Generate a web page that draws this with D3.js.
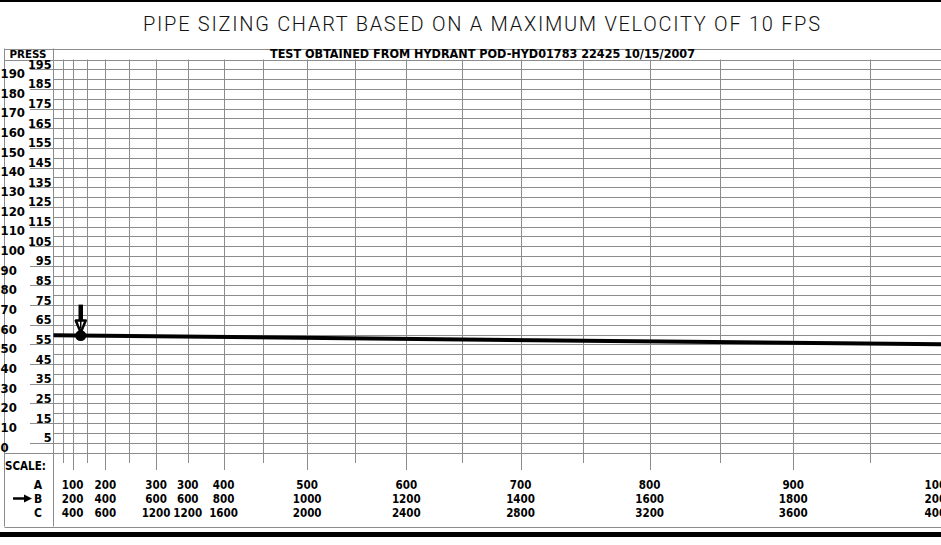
<!DOCTYPE html>
<html>
<head>
<meta charset="utf-8">
<script src="https://cdn.jsdelivr.net/npm/d3@7"></script>
<style>
  body { margin: 0; background: #fff; }
  svg { display: block; }
  .lbl { font-family: "DejaVu Sans Condensed", "Liberation Sans Narrow", "DejaVu Sans", sans-serif; font-weight: bold; font-stretch: condensed; fill: #000; }
</style>
</head>
<body>
<svg id="chart" width="941" height="545"></svg>
<script>
// Pipe sizing chart (N^1.85 paper)

var title = "PIPE SIZING CHART BASED ON A MAXIMUM VELOCITY OF 10 FPS";
var subtitle = "TEST OBTAINED FROM HYDRANT POD-HYD01783 22425 10/15/2007";

// pressure labels, left column
var evenPress = [190, 180, 170, 160, 150, 140, 130, 120, 110, 100, 90, 80, 70, 60, 50, 40, 30, 20, 10, 0];
var oddPress = [195, 185, 175, 165, 155, 145, 135, 125, 115, 105, 95, 85, 75, 65, 55, 45, 35, 25, 15, 5];

// flow grid lines (scale A units)
var majorFlow = [100, 200, 300, 400, 500, 600, 700, 800, 900, 1000];
var minorFlow = [50, 150, 250, 350, 450, 550, 650, 750, 850, 950];

// scale rows under the grid
var scalePos = [100, 200, 300, 350, 400, 500, 600, 700, 800, 900, 1000];
var scaleA = ["100", "200", "300", "300", "400", "500", "600", "700", "800", "900", "1000"];
var scaleB = ["200", "400", "600", "600", "800", "1000", "1200", "1400", "1600", "1800", "2000"];
var scaleC = ["400", "600", "1200", "1200", "1600", "2000", "2400", "2800", "3200", "3600", "4000"];

// flow test: static pressure, pressure at end of scale, test point
var testFlow = [0, 1000];
var testPress = [59.6, 55.0];
var testPointFlow = 131;

var svg = d3.select("#chart");
var W = 941;

var boxLeft = 4.5, colX = 53.5, headTop = 48.5, boxBottom = 526.5;
var shortEnd = 463, longEnd = 470;

var x = d3.scalePow().exponent(1.85).domain([0, 1000]).range([60, 951]);
var y = d3.scaleLinear().domain([0, 200]).range([452.5, 59.5]);

var gridColor = "#8c8c8c";

// top rule
svg.append("line").attr("x1", 0).attr("x2", W).attr("y1", 1).attr("y2", 1)
  .attr("stroke", "#000").attr("stroke-width", 2);

svg.append("text").attr("x", 481.5).attr("y", 30.5)
  .attr("text-anchor", "middle")
  .attr("textLength", 677).attr("lengthAdjust", "spacing")
  .style("font-family", "Roboto, 'DejaVu Sans', sans-serif").style("font-weight", 300)
  .style("font-size", "20px")
  .style("fill", "#111")
  .text(title);

// horizontal grid
var g = svg.append("g");
g.selectAll("line.h").data(y.ticks(40).filter(function(d){ return d > 0 && d < 200; }))
  .enter().append("line")
  .attr("x1", colX).attr("x2", W)
  .attr("y1", function(d){ return Math.round(y(d)) + 0.5; })
  .attr("y2", function(d){ return Math.round(y(d)) + 0.5; })
  .attr("stroke", gridColor);

// header and bottom of grid, full width
[headTop, y(200), y(0), boxBottom].forEach(function(v){
  g.append("line").attr("x1", boxLeft).attr("x2", W)
    .attr("y1", Math.round(v) + 0.5).attr("y2", Math.round(v) + 0.5)
    .attr("stroke", gridColor);
});

// box borders
g.append("line").attr("x1", boxLeft).attr("x2", boxLeft).attr("y1", headTop).attr("y2", boxBottom).attr("stroke", gridColor);
g.append("line").attr("x1", colX).attr("x2", colX).attr("y1", headTop).attr("y2", boxBottom).attr("stroke", gridColor);

// vertical grid
g.selectAll("line.major").data(majorFlow).enter().append("line")
  .attr("x1", function(d){ return Math.round(x(d)) + 0.5; })
  .attr("x2", function(d){ return Math.round(x(d)) + 0.5; })
  .attr("y1", y(200)).attr("y2", longEnd)
  .attr("stroke", gridColor);
g.selectAll("line.minor").data(minorFlow).enter().append("line")
  .attr("x1", function(d){ return Math.round(x(d)) + 0.5; })
  .attr("x2", function(d){ return Math.round(x(d)) + 0.5; })
  .attr("y1", y(200)).attr("y2", shortEnd)
  .attr("stroke", gridColor);

// header texts
svg.append("text").attr("class", "lbl").attr("x", 28).attr("y", 57.5)
  .attr("text-anchor", "middle").attr("textLength", 37).attr("lengthAdjust", "spacingAndGlyphs")
  .style("font-size", "11px").text("PRESS");
svg.append("text").attr("class", "lbl").attr("x", 482.5).attr("y", 57.5)
  .attr("text-anchor", "middle").attr("textLength", 425).attr("lengthAdjust", "spacingAndGlyphs")
  .style("font-size", "12.5px").text(subtitle);

// left pressure labels
svg.selectAll("text.even").data(evenPress).enter().append("text")
  .attr("class", "lbl").attr("x", 0.5).attr("y", function(d){ return y(d) - 1; })
  .style("font-size", "13px").text(function(d){ return d; });
svg.selectAll("text.odd").data(oddPress).enter().append("text")
  .attr("class", "lbl").attr("x", 51.5).attr("y", function(d){ return y(d) - 0.5; })
  .attr("text-anchor", "end")
  .style("font-size", "12.5px").text(function(d){ return d; });
svg.selectAll("line.oddtick").data(oddPress).enter().append("line")
  .attr("x1", 30).attr("x2", colX)
  .attr("y1", function(d){ return Math.round(y(d)) + 0.5; })
  .attr("y2", function(d){ return Math.round(y(d)) + 0.5; })
  .attr("stroke", gridColor);

svg.append("text").attr("class", "lbl").attr("x", 5).attr("y", 469.5)
  .style("font-size", "11.5px").text("SCALE:");

// scale rows
var rows = [{name: "A", labels: scaleA, y: 488.5}, {name: "B", labels: scaleB, y: 502.5}, {name: "C", labels: scaleC, y: 516.5}];
rows.forEach(function(r){
  svg.append("text").attr("class", "lbl").attr("x", 38).attr("y", r.y)
    .attr("text-anchor", "middle").style("font-size", "12px").text(r.name);
  svg.selectAll(null).data(scalePos).enter().append("text")
    .attr("class", "lbl")
    .attr("x", function(d){ return x(d); }).attr("y", r.y)
    .attr("dx", function(d, i){ return i == scalePos.length - 1 ? -12 : 0; })
    .attr("text-anchor", "middle").style("font-size", "11.5px")
    .text(function(d, i){ return r.labels[i]; });
});

// arrow pointing at scale B
svg.append("line").attr("x1", 13).attr("x2", 26).attr("y1", 498.5).attr("y2", 498.5)
  .attr("stroke", "#000").attr("stroke-width", 2.5);
svg.append("path").attr("d", "M24,494.5 L32,498.5 L24,502.5 Z").attr("fill", "#000");

// flow test line
var x0 = x(testFlow[0]), x1 = x(testFlow[1]);
var slope = (testPress[1] - testPress[0]) / (x1 - x0);
function pressAt(px){ return testPress[0] + slope * (px - x0); }

svg.append("line")
  .attr("x1", colX).attr("y1", y(pressAt(colX)))
  .attr("x2", x1).attr("y2", y(testPress[1]))
  .attr("stroke", "#000").attr("stroke-width", 4);

var tx = x(testPointFlow), ty = y(pressAt(x(testPointFlow)));
svg.append("circle").attr("cx", tx).attr("cy", ty).attr("r", 5.5).attr("fill", "#000");

// marker arrow above test point
svg.append("line").attr("x1", tx).attr("x2", tx).attr("y1", ty - 31).attr("y2", ty - 14)
  .attr("stroke", "#000").attr("stroke-width", 4.5);
svg.append("path")
  .attr("d", "M" + (tx - 5) + "," + (ty - 15) + " L" + (tx + 5) + "," + (ty - 15) + " L" + tx + "," + (ty - 3) + " Z")
  .attr("fill", "#fff").attr("stroke", "#000").attr("stroke-width", 2.5).attr("stroke-linejoin", "round");
svg.append("line").attr("x1", tx).attr("x2", tx).attr("y1", ty - 16).attr("y2", ty - 7)
  .attr("stroke", "#000").attr("stroke-width", 1.5);

// bottom rule
svg.append("rect").attr("x", 0).attr("y", 532).attr("width", W).attr("height", 5).attr("fill", "#000");
</script>
</body>
</html>
